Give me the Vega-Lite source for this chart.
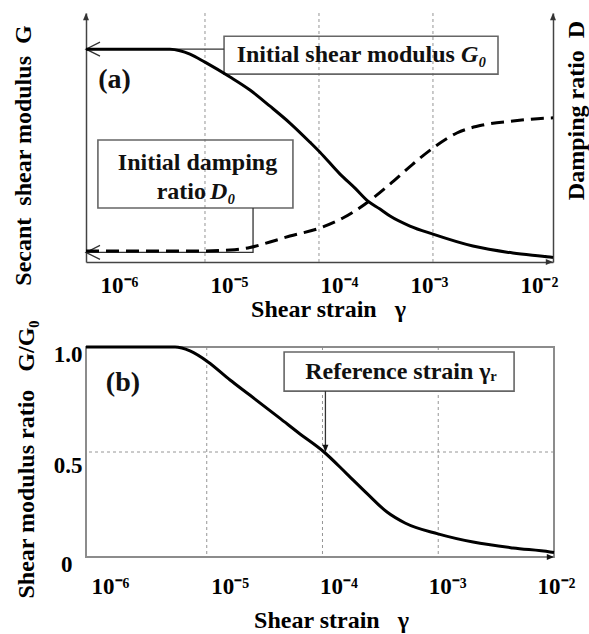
{
  "$schema": "https://vega.github.io/schema/vega-lite/v6.json",
  "autosize": {"type": "none"},
  "padding": {"left": 86, "top": 13, "right": 503, "bottom": 621},
  "background": "white",
  "config": {
    "view": {"stroke": null},
    "font": "Liberation Serif",
    "text": {"font": "Liberation Serif", "fontWeight": "bold", "fontSize": 24, "color": "#111"}
  },
  "datasets": {
    "modulus": [
      {"strain": 9.04e-7, "G": 1.0},
      {"strain": 4.93e-6, "G": 1.0},
      {"strain": 6.04e-6, "G": 0.993},
      {"strain": 7.38e-6, "G": 0.977},
      {"strain": 1.0e-5, "G": 0.939},
      {"strain": 1.66e-5, "G": 0.869},
      {"strain": 2.48e-5, "G": 0.808},
      {"strain": 3.72e-5, "G": 0.732},
      {"strain": 5.56e-5, "G": 0.653},
      {"strain": 8.33e-5, "G": 0.563},
      {"strain": 1.02e-4, "G": 0.516},
      {"strain": 1.53e-4, "G": 0.413},
      {"strain": 2.07e-4, "G": 0.347},
      {"strain": 2.69e-4, "G": 0.286},
      {"strain": 3.43e-4, "G": 0.249},
      {"strain": 4.2e-4, "G": 0.216},
      {"strain": 6.28e-4, "G": 0.169},
      {"strain": 1.0e-3, "G": 0.131},
      {"strain": 2.24e-3, "G": 0.075},
      {"strain": 5.03e-3, "G": 0.042},
      {"strain": 1.06e-2, "G": 0.023},
      {"strain": 1.13e-2, "G": 0.021}
    ],
    "damping": [
      {"strain": 9.04e-7, "D": 1.15},
      {"strain": 9.04e-6, "D": 1.15},
      {"strain": 1.66e-5, "D": 1.25},
      {"strain": 2.48e-5, "D": 1.51},
      {"strain": 3.72e-5, "D": 2.09},
      {"strain": 5.56e-5, "D": 2.71},
      {"strain": 1.02e-4, "D": 3.55},
      {"strain": 1.62e-4, "D": 4.59},
      {"strain": 2.69e-4, "D": 6.27},
      {"strain": 4.2e-4, "D": 8.14},
      {"strain": 6.67e-4, "D": 10.23},
      {"strain": 1.0e-3, "D": 11.9},
      {"strain": 1.62e-3, "D": 13.47},
      {"strain": 2.75e-3, "D": 14.31},
      {"strain": 5.03e-3, "D": 14.72},
      {"strain": 1.06e-2, "D": 15.04},
      {"strain": 1.13e-2, "D": 15.05}
    ],
    "ratio": [
      {"strain": 9.06e-7, "ratio": 1.0},
      {"strain": 5.32e-6, "ratio": 1.0},
      {"strain": 6.1e-6, "ratio": 0.995},
      {"strain": 7.17e-6, "ratio": 0.981},
      {"strain": 1.026e-5, "ratio": 0.929},
      {"strain": 1.59e-5, "ratio": 0.843},
      {"strain": 2.37e-5, "ratio": 0.77},
      {"strain": 4.3e-5, "ratio": 0.66},
      {"strain": 6.39e-5, "ratio": 0.586},
      {"strain": 1.03e-4, "ratio": 0.5},
      {"strain": 1.63e-4, "ratio": 0.395},
      {"strain": 2.43e-4, "ratio": 0.302},
      {"strain": 3.61e-4, "ratio": 0.214},
      {"strain": 5.16e-4, "ratio": 0.162},
      {"strain": 9.95e-4, "ratio": 0.11},
      {"strain": 2.0e-3, "ratio": 0.071},
      {"strain": 4.42e-3, "ratio": 0.043},
      {"strain": 9.24e-3, "ratio": 0.024},
      {"strain": 1.0e-2, "ratio": 0.021}
    ],
    "decades": [
      {"strain": 1e-5},
      {"strain": 1e-4},
      {"strain": 1e-3}
    ]
  },
  "spacing": 85,
  "bounds": "flush",
  "vconcat": [
    {
      "width": 467,
      "height": 249,
      "resolve": {"scale": {"y": "independent"}},
      "layer": [
        {
          "layer": [
            {
              "data": {"name": "decades"},
              "mark": {"type": "rule", "color": "#8a8a8a", "strokeWidth": 0.9, "strokeDash": [3, 3]},
              "encoding": {
                "x": {"field": "strain", "type": "quantitative", "scale": {"type": "log", "domain": [9.04e-7, 0.0113], "nice": false}}
              }
            },
            {
              "data": {"values": [{"strain": 1.47e-5, "strain2": 3.72e-3, "G": 0.883, "G2": 1.061}]},
              "mark": {"type": "rect", "fill": null, "stroke": "#666", "strokeWidth": 1.6},
              "encoding": {
                "x": {"field": "strain", "type": "quantitative", "scale": {"type": "log", "domain": [9.04e-7, 0.0113], "nice": false}},
                "x2": {"field": "strain2"},
                "y": {"field": "G", "type": "quantitative", "scale": {"domain": [0, 1.17], "nice": false, "zero": false}},
                "y2": {"field": "G2"}
              }
            },
            {
              "data": {"values": [{"strain": 1.56e-3, "G": 0.972, "label": "Initial shear modulus"}]},
              "mark": {"type": "text", "align": "right", "baseline": "middle"},
              "encoding": {
                "x": {"field": "strain", "type": "quantitative", "scale": {"type": "log", "domain": [9.04e-7, 0.0113], "nice": false}},
                "y": {"field": "G", "type": "quantitative", "scale": {"domain": [0, 1.17], "nice": false, "zero": false}},
                "text": {"field": "label"}
              }
            },
            {
              "data": {"values": [{"strain": 1.76e-3, "G": 0.972, "label": "G₀"}]},
              "mark": {"type": "text", "align": "left", "baseline": "middle", "fontStyle": "italic"},
              "encoding": {
                "x": {"field": "strain", "type": "quantitative", "scale": {"type": "log", "domain": [9.04e-7, 0.0113], "nice": false}},
                "y": {"field": "G", "type": "quantitative", "scale": {"domain": [0, 1.17], "nice": false, "zero": false}},
                "text": {"field": "label"}
              }
            },
            {
              "data": {"values": [{"strain": 1.47e-5, "strain2": 9.04e-7, "G": 1.0}]},
              "mark": {"type": "rule", "color": "#333", "strokeWidth": 1.3},
              "encoding": {
                "x": {"field": "strain", "type": "quantitative", "scale": {"type": "log", "domain": [9.04e-7, 0.0113], "nice": false}},
                "x2": {"field": "strain2"},
                "y": {"field": "G", "type": "quantitative", "scale": {"domain": [0, 1.17], "nice": false, "zero": false}}
              }
            },
            {
              "data": {"values": [{"strain": 9.04e-7, "G": 1.0}]},
              "mark": {"type": "point", "shape": "M2,-1L0,0L2,1", "size": 196, "filled": false, "stroke": "#333", "strokeWidth": 1.3, "opacity": 1},
              "encoding": {
                "x": {"field": "strain", "type": "quantitative", "scale": {"type": "log", "domain": [9.04e-7, 0.0113], "nice": false}},
                "y": {"field": "G", "type": "quantitative", "scale": {"domain": [0, 1.17], "nice": false, "zero": false}}
              }
            },
            {
              "data": {"values": [{"strain": 1.61e-6, "G": 0.854, "label": "(a)"}]},
              "mark": {"type": "text", "align": "center", "baseline": "middle", "fontSize": 28},
              "encoding": {
                "x": {"field": "strain", "type": "quantitative", "scale": {"type": "log", "domain": [9.04e-7, 0.0113], "nice": false}},
                "y": {"field": "G", "type": "quantitative", "scale": {"domain": [0, 1.17], "nice": false, "zero": false}},
                "text": {"field": "label"}
              }
            },
            {
              "data": {"values": [{"strain": 9.04e-7, "G": 1.17}, {"strain": 0.0113, "G": 1.17}]},
              "mark": {"type": "point", "shape": "M0,0L-1,2.4L1,2.4Z", "size": 36, "filled": true, "color": "#333", "opacity": 1},
              "encoding": {
                "x": {"field": "strain", "type": "quantitative", "scale": {"type": "log", "domain": [9.04e-7, 0.0113], "nice": false}},
                "y": {"field": "G", "type": "quantitative", "scale": {"domain": [0, 1.17], "nice": false, "zero": false}}
              }
            },
            {
              "data": {"values": [{"strain": 0.0113, "G": 0}]},
              "mark": {"type": "point", "shape": "M0,0L-2.4,-1L-2.4,1Z", "size": 36, "filled": true, "color": "#333", "opacity": 1},
              "encoding": {
                "x": {"field": "strain", "type": "quantitative", "scale": {"type": "log", "domain": [9.04e-7, 0.0113], "nice": false}},
                "y": {"field": "G", "type": "quantitative", "scale": {"domain": [0, 1.17], "nice": false, "zero": false}}
              }
            },
            {
              "data": {"name": "modulus"},
              "mark": {"type": "line", "interpolate": "monotone", "color": "#000", "strokeWidth": 3},
              "encoding": {
                "x": {
                  "field": "strain", "type": "quantitative",
                  "scale": {"type": "log", "domain": [9.04e-7, 0.0113], "nice": false},
                  "axis": {
                    "orient": "bottom",
                    "values": [1e-6, 1e-5, 1e-4, 1e-3, 1e-2],
                    "labelExpr": "datum.value < 2e-6 ? '10⁻⁶' : datum.value < 2e-5 ? '10⁻⁵' : datum.value < 2e-4 ? '10⁻⁴' : datum.value < 2e-3 ? '10⁻³' : '10⁻²'",
                    "grid": false, "ticks": false, "tickSize": 0,
                    "domain": true, "domainColor": "#444", "domainWidth": 1.5,
                    "labelFont": "Liberation Serif", "labelFontWeight": "bold", "labelFontSize": 23, "labelColor": "#000",
                    "labelBaseline": "alphabetic", "labelPadding": 30, "labelFlush": false, "labelOverlap": false, "labelBound": false,
                    "labelOffset": {
                      "condition": [
                        {"test": "datum.value < 2e-6", "value": 28},
                        {"test": "datum.value < 2e-5", "value": 24},
                        {"test": "datum.value < 2e-4", "value": 20},
                        {"test": "datum.value < 2e-3", "value": -4}
                      ],
                      "value": -8
                    },
                    "title": "Shear strain\u00a0\u00a0 γ",
                    "titleFont": "Liberation Serif", "titleFontWeight": "bold", "titleFontSize": 24, "titleColor": "#000",
                    "titleX": 242, "titleY": 54, "titleAlign": "center", "titleBaseline": "alphabetic"
                  }
                },
                "y": {
                  "field": "G", "type": "quantitative",
                  "scale": {"domain": [0, 1.17], "nice": false, "zero": false},
                  "axis": {
                    "orient": "left",
                    "domain": true, "domainColor": "#444", "domainWidth": 1.5,
                    "ticks": false, "labels": false, "grid": false,
                    "title": "Secant\u00a0 shear modulus\u00a0 G",
                    "titleFont": "Liberation Serif", "titleFontWeight": "bold", "titleFontSize": 24, "titleColor": "#000",
                    "titleAngle": 270, "titleX": -56, "titleY": 142, "titleAlign": "center", "titleBaseline": "alphabetic"
                  }
                }
              }
            }
          ]
        },
        {
          "layer": [
            {
              "data": {"values": [{"strain": 1.15e-6, "strain2": 5.91e-5, "D": 5.64, "D2": 12.74}]},
              "mark": {"type": "rect", "fill": null, "stroke": "#666", "strokeWidth": 1.6},
              "encoding": {
                "x": {"field": "strain", "type": "quantitative", "scale": {"type": "log", "domain": [9.04e-7, 0.0113], "nice": false}},
                "x2": {"field": "strain2"},
                "y": {"field": "D", "type": "quantitative", "scale": {"domain": [0, 26], "nice": false, "zero": false}},
                "y2": {"field": "D2"}
              }
            },
            {
              "data": {"values": [{"strain": 8.6e-6, "D": 10.34, "label": "Initial damping"}]},
              "mark": {"type": "text", "align": "center", "baseline": "middle"},
              "encoding": {
                "x": {"field": "strain", "type": "quantitative", "scale": {"type": "log", "domain": [9.04e-7, 0.0113], "nice": false}},
                "y": {"field": "D", "type": "quantitative", "scale": {"domain": [0, 26], "nice": false, "zero": false}},
                "text": {"field": "label"}
              }
            },
            {
              "data": {"values": [{"strain": 1.02e-5, "D": 7.31, "label": "ratio"}]},
              "mark": {"type": "text", "align": "right", "baseline": "middle"},
              "encoding": {
                "x": {"field": "strain", "type": "quantitative", "scale": {"type": "log", "domain": [9.04e-7, 0.0113], "nice": false}},
                "y": {"field": "D", "type": "quantitative", "scale": {"domain": [0, 26], "nice": false, "zero": false}},
                "text": {"field": "label"}
              }
            },
            {
              "data": {"values": [{"strain": 1.107e-5, "D": 7.31, "label": "D₀"}]},
              "mark": {"type": "text", "align": "left", "baseline": "middle", "fontStyle": "italic"},
              "encoding": {
                "x": {"field": "strain", "type": "quantitative", "scale": {"type": "log", "domain": [9.04e-7, 0.0113], "nice": false}},
                "y": {"field": "D", "type": "quantitative", "scale": {"domain": [0, 26], "nice": false, "zero": false}},
                "text": {"field": "label"}
              }
            },
            {
              "data": {"values": [
                {"strain": 2.64e-5, "D": 5.64, "o": 1},
                {"strain": 2.64e-5, "D": 1.0, "o": 2},
                {"strain": 9.04e-7, "D": 1.0, "o": 3}
              ]},
              "mark": {"type": "line", "color": "#333", "strokeWidth": 1.3},
              "encoding": {
                "x": {"field": "strain", "type": "quantitative", "scale": {"type": "log", "domain": [9.04e-7, 0.0113], "nice": false}},
                "y": {"field": "D", "type": "quantitative", "scale": {"domain": [0, 26], "nice": false, "zero": false}},
                "order": {"field": "o"}
              }
            },
            {
              "data": {"values": [{"strain": 9.04e-7, "D": 1.0}]},
              "mark": {"type": "point", "shape": "M2,-1L0,0L2,1", "size": 196, "filled": false, "stroke": "#333", "strokeWidth": 1.3, "opacity": 1},
              "encoding": {
                "x": {"field": "strain", "type": "quantitative", "scale": {"type": "log", "domain": [9.04e-7, 0.0113], "nice": false}},
                "y": {"field": "D", "type": "quantitative", "scale": {"domain": [0, 26], "nice": false, "zero": false}}
              }
            },
            {
              "data": {"name": "damping"},
              "mark": {"type": "line", "interpolate": "monotone", "color": "#000", "strokeWidth": 3, "strokeDash": [13, 7]},
              "encoding": {
                "x": {"field": "strain", "type": "quantitative", "scale": {"type": "log", "domain": [9.04e-7, 0.0113], "nice": false}},
                "y": {
                  "field": "D", "type": "quantitative",
                  "scale": {"domain": [0, 26], "nice": false, "zero": false},
                  "axis": {
                    "orient": "right",
                    "domain": true, "domainColor": "#444", "domainWidth": 1.5,
                    "ticks": false, "labels": false, "grid": false,
                    "title": "Damping ratio\u00a0 D",
                    "titleFont": "Liberation Serif", "titleFontWeight": "bold", "titleFontSize": 24, "titleColor": "#000",
                    "titleAngle": 270, "titleX": 30, "titleY": 97, "titleAlign": "center", "titleBaseline": "alphabetic"
                  }
                }
              }
            }
          ]
        }
      ]
    },
    {
      "width": 468,
      "height": 210,
      "view": {"stroke": "#8c8c8c", "strokeWidth": 2},
      "layer": [
        {
          "data": {"name": "decades"},
          "mark": {"type": "rule", "color": "#8a8a8a", "strokeWidth": 0.9, "strokeDash": [3, 3]},
          "encoding": {
            "x": {"field": "strain", "type": "quantitative", "scale": {"type": "log", "domain": [9.057e-7, 0.01], "nice": false}}
          }
        },
        {
          "data": {"values": [{"ratio": 0.5}]},
          "mark": {"type": "rule", "color": "#8a8a8a", "strokeWidth": 0.9, "strokeDash": [3, 3]},
          "encoding": {
            "y": {"field": "ratio", "type": "quantitative", "scale": {"domain": [0, 1], "nice": false}}
          }
        },
        {
          "data": {"name": "ratio"},
          "mark": {"type": "line", "interpolate": "monotone", "color": "#000", "strokeWidth": 3},
          "encoding": {
            "x": {
              "field": "strain", "type": "quantitative",
              "scale": {"type": "log", "domain": [9.057e-7, 0.01], "nice": false},
              "axis": {
                "orient": "bottom",
                "values": [1e-6, 1e-5, 1e-4, 1e-3, 1e-2],
                "labelExpr": "datum.value < 2e-6 ? '10⁻⁶' : datum.value < 2e-5 ? '10⁻⁵' : datum.value < 2e-4 ? '10⁻⁴' : datum.value < 2e-3 ? '10⁻³' : '10⁻²'",
                "grid": false, "ticks": false, "tickSize": 0, "domain": false,
                "labelFont": "Liberation Serif", "labelFontWeight": "bold", "labelFontSize": 23, "labelColor": "#000",
                "labelBaseline": "alphabetic", "labelPadding": 36, "labelFlush": false, "labelOverlap": false, "labelBound": false,
                "labelOffset": {
                  "condition": [
                    {"test": "datum.value < 2e-6", "value": 19},
                    {"test": "datum.value < 2e-5", "value": 23},
                    {"test": "datum.value < 2e-4", "value": 16},
                    {"test": "datum.value < 2e-3", "value": 9}
                  ],
                  "value": 2
                },
                "title": "Shear strain\u00a0\u00a0 γ",
                "titleFont": "Liberation Serif", "titleFontWeight": "bold", "titleFontSize": 24, "titleColor": "#000",
                "titleX": 245, "titleY": 70, "titleAlign": "center", "titleBaseline": "alphabetic"
              }
            },
            "y": {
              "field": "ratio", "type": "quantitative",
              "scale": {"domain": [0, 1], "nice": false},
              "axis": {
                "orient": "left",
                "values": [0, 0.5, 1],
                "labelExpr": "datum.value == 1 ? '1.0' : datum.value == 0.5 ? '0.5' : '0'",
                "domain": false, "ticks": false, "tickSize": 0, "grid": false,
                "labelFont": "Liberation Serif", "labelFontWeight": "bold", "labelFontSize": 23, "labelColor": "#000",
                "labelBaseline": "alphabetic", "labelAlign": "right", "labelFlush": false, "labelOverlap": false,
                "labelPadding": {"condition": {"test": "datum.value == 0", "value": 14}, "value": 4},
                "labelOffset": {"condition": {"test": "datum.value == 0.5", "value": 20}, "value": 14},
                "title": "Shear modulus ratio\u00a0\u00a0 G/G₀",
                "titleFont": "Liberation Serif", "titleFontWeight": "bold", "titleFontSize": 24, "titleColor": "#000",
                "titleAngle": 270, "titleX": -53, "titleY": 112, "titleAlign": "center", "titleBaseline": "alphabetic"
              }
            }
          }
        },
        {
          "data": {"values": [{"strain": 4.66e-5, "strain2": 4.52e-3, "ratio": 0.79, "ratio2": 0.976}]},
          "mark": {"type": "rect", "fill": "white", "stroke": "#666", "strokeWidth": 1.6},
          "encoding": {
            "x": {"field": "strain", "type": "quantitative", "scale": {"type": "log", "domain": [9.057e-7, 0.01], "nice": false}},
            "x2": {"field": "strain2"},
            "y": {"field": "ratio", "type": "quantitative", "scale": {"domain": [0, 1], "nice": false}},
            "y2": {"field": "ratio2"}
          }
        },
        {
          "data": {"values": [{"strain": 4.76e-4, "ratio": 0.881, "label": "Reference strain γᵣ"}]},
          "mark": {"type": "text", "align": "center", "baseline": "middle"},
          "encoding": {
            "x": {"field": "strain", "type": "quantitative", "scale": {"type": "log", "domain": [9.057e-7, 0.01], "nice": false}},
            "y": {"field": "ratio", "type": "quantitative", "scale": {"domain": [0, 1], "nice": false}},
            "text": {"field": "label"}
          }
        },
        {
          "data": {"values": [{"strain": 1.06e-4, "ratio": 0.79, "ratio2": 0.5}]},
          "mark": {"type": "rule", "color": "#333", "strokeWidth": 1.3},
          "encoding": {
            "x": {"field": "strain", "type": "quantitative", "scale": {"type": "log", "domain": [9.057e-7, 0.01], "nice": false}},
            "y": {"field": "ratio", "type": "quantitative", "scale": {"domain": [0, 1], "nice": false}},
            "y2": {"field": "ratio2"}
          }
        },
        {
          "data": {"values": [{"strain": 1.06e-4, "ratio": 0.5}]},
          "mark": {"type": "point", "shape": "M0,0L-1,-2.4L1,-2.4Z", "size": 36, "filled": true, "color": "#111", "opacity": 1},
          "encoding": {
            "x": {"field": "strain", "type": "quantitative", "scale": {"type": "log", "domain": [9.057e-7, 0.01], "nice": false}},
            "y": {"field": "ratio", "type": "quantitative", "scale": {"domain": [0, 1], "nice": false}}
          }
        },
        {
          "data": {"values": [{"strain": 1.89e-6, "ratio": 0.829, "label": "(b)"}]},
          "mark": {"type": "text", "align": "center", "baseline": "middle", "fontSize": 28},
          "encoding": {
            "x": {"field": "strain", "type": "quantitative", "scale": {"type": "log", "domain": [9.057e-7, 0.01], "nice": false}},
            "y": {"field": "ratio", "type": "quantitative", "scale": {"domain": [0, 1], "nice": false}},
            "text": {"field": "label"}
          }
        },
        {
          "data": {"values": [{"strain": 0.01, "ratio": 0}]},
          "mark": {"type": "point", "shape": "M0,0L-2.4,-1L-2.4,1Z", "size": 36, "filled": true, "color": "#111", "opacity": 1},
          "encoding": {
            "x": {"field": "strain", "type": "quantitative", "scale": {"type": "log", "domain": [9.057e-7, 0.01], "nice": false}},
            "y": {"field": "ratio", "type": "quantitative", "scale": {"domain": [0, 1], "nice": false}}
          }
        }
      ]
    }
  ]
}
